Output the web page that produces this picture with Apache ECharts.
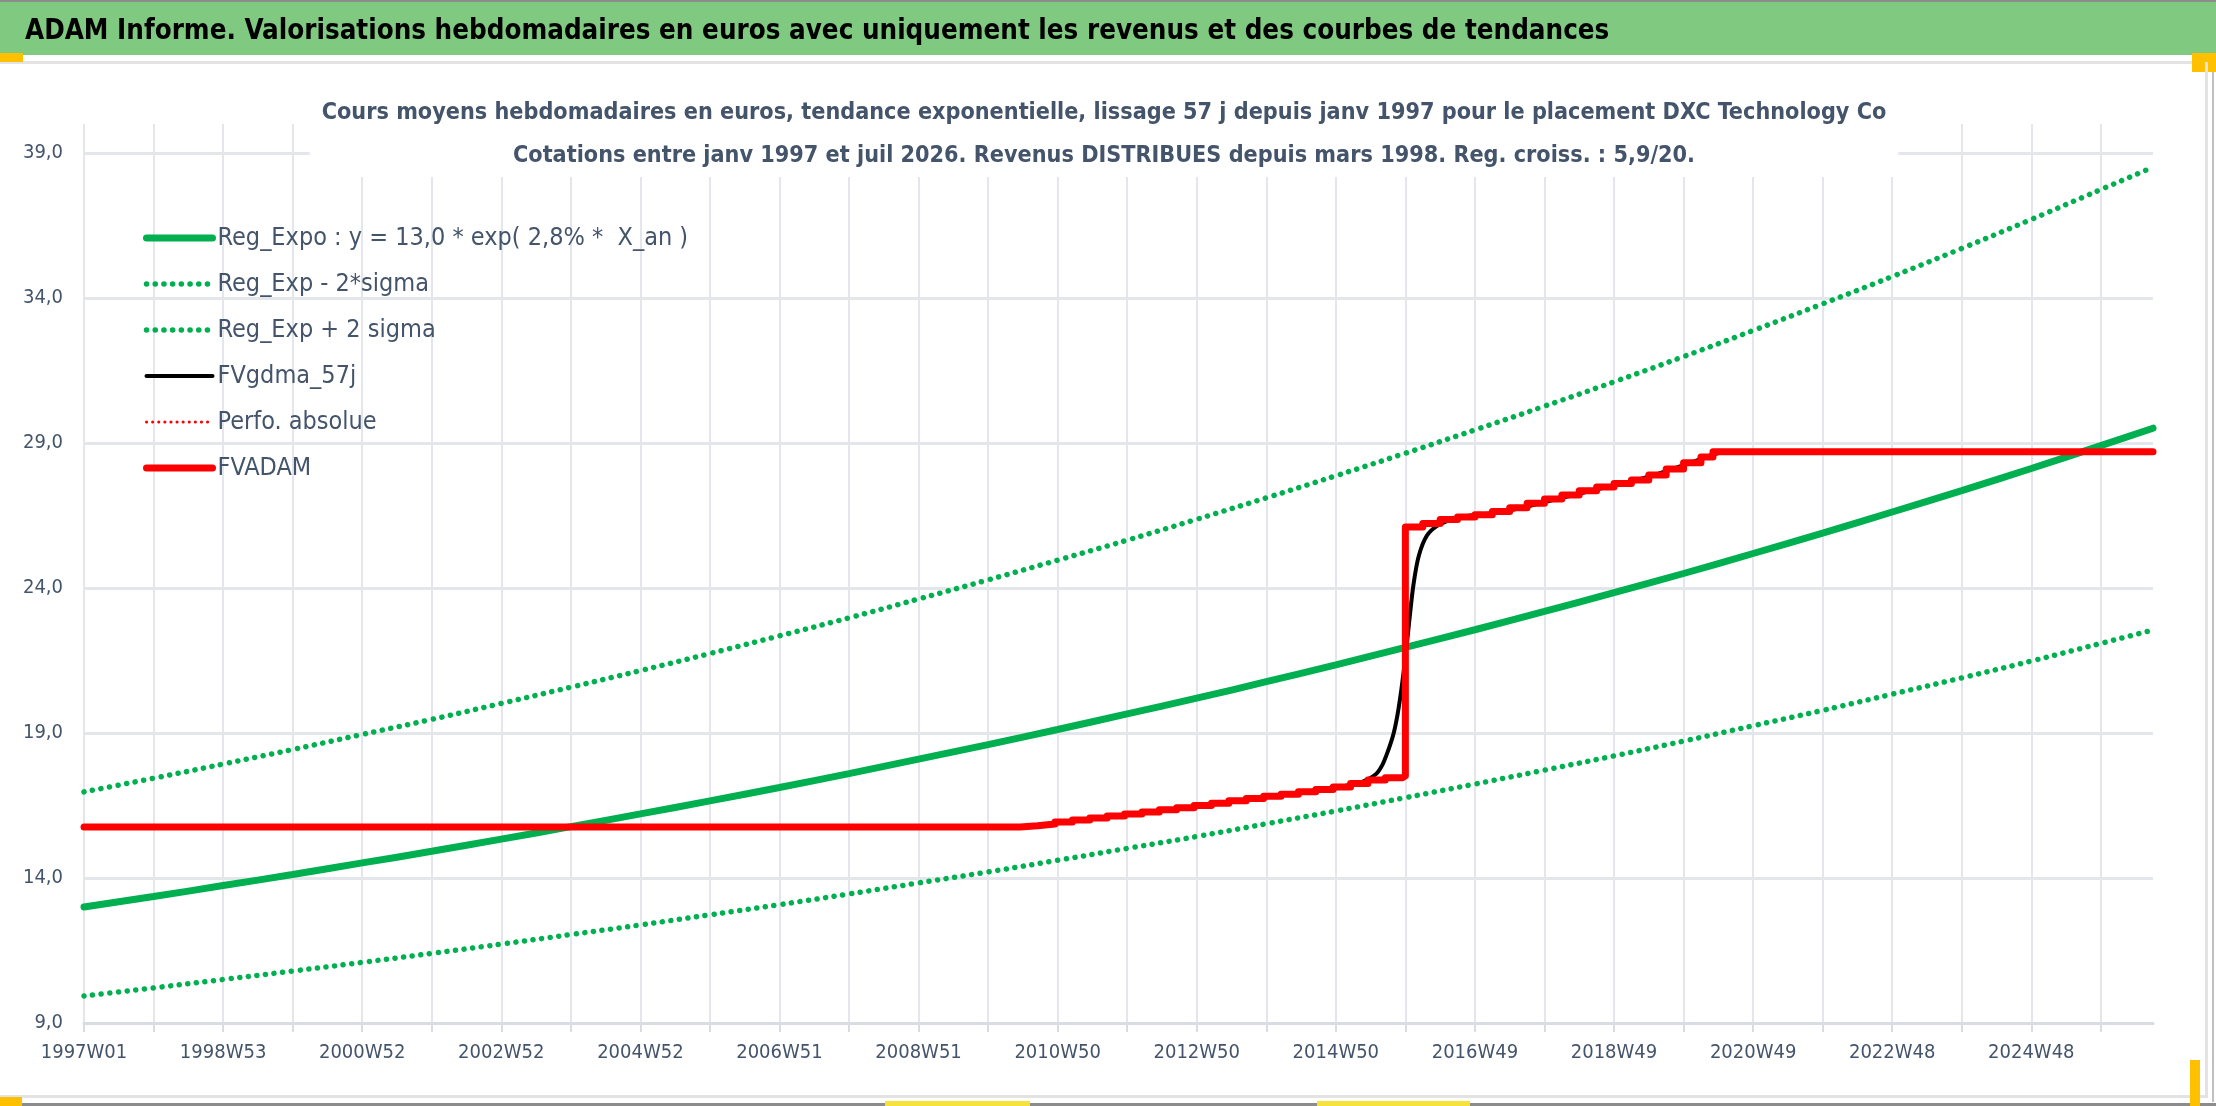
<!DOCTYPE html>
<html>
<head>
<meta charset="utf-8">
<title>ADAM Informe - DXC Technology Co</title>
<script src="https://cdn.jsdelivr.net/npm/echarts@6/dist/echarts.min.js"></script>
<style>
    html, body { margin: 0; padding: 0; background: #fff; }
    #chart { width: 2216px; height: 1106px; }
</style>
</head>
<body>
<div id="chart"></div>
<script>
// semaines (index depuis 1997W01) des graduations et etiquettes de l'axe X
const tickWeeks = [0, 52, 104, 156, 208, 260, 312, 364, 416, 468, 520, 572, 624, 676, 728,
    780, 832, 884, 936, 988, 1040, 1092, 1144, 1196, 1248, 1300, 1352, 1404, 1456, 1508]
const labelWeeks = [0, 104, 208, 312, 416, 520, 624, 728, 832, 936, 1040, 1144, 1248, 1352, 1456]
const weekLabels = ['1997W01', '1998W53', '2000W52', '2002W52', '2004W52', '2006W51', '2008W51',
    '2010W50', '2012W50', '2014W50', '2016W49', '2018W49', '2020W49', '2022W48', '2024W48']
const yTicks = [9, 14, 19, 24, 29, 34, 39]

const trendWeeks = [0, 52, 104, 156, 208, 260, 312, 364, 416, 468, 520, 572, 624, 676, 728,
    780, 832, 884, 936, 988, 1040, 1092, 1144, 1196, 1248, 1300, 1352, 1404, 1456, 1508, 1547]
const regExpo = [13.00, 13.36, 13.74, 14.12, 14.52, 14.92, 15.34, 15.77, 16.21, 16.66, 17.12,
    17.60, 18.10, 18.60, 19.12, 19.66, 20.20, 20.77, 21.35, 21.95, 22.56, 23.19, 23.84, 24.50,
    25.19, 25.89, 26.62, 27.36, 28.12, 28.91, 29.51]
const regLow = [9.93, 10.21, 10.50, 10.79, 11.09, 11.40, 11.72, 12.05, 12.38, 12.73, 13.08,
    13.45, 13.83, 14.21, 14.61, 15.02, 15.43, 15.87, 16.31, 16.77, 17.24, 17.72, 18.21, 18.72,
    19.25, 19.78, 20.34, 20.90, 21.48, 22.09, 22.55]
const regHigh = [16.97, 17.44, 17.93, 18.43, 18.95, 19.47, 20.02, 20.58, 21.15, 21.74, 22.35,
    22.97, 23.62, 24.28, 24.96, 25.65, 26.37, 27.11, 27.87, 28.65, 29.45, 30.27, 31.11, 31.98,
    32.88, 33.80, 34.74, 35.71, 36.71, 37.74, 38.51]

// FVADAM : valeur en escalier (revenus trimestriels)
const fvadamWeeks = [0, 700, 713, 726, 739, 752, 765, 778, 791, 804, 817, 830, 843, 856, 869,
    882, 895, 908, 921, 934, 947, 960, 973, 986, 988, 1001, 1014, 1027, 1040, 1053, 1066, 1079,
    1092, 1105, 1118, 1131, 1144, 1157, 1170, 1183, 1196, 1209, 1218, 1547]
const fvadamValues = [15.76, 15.80, 15.86, 15.93, 16.00, 16.07, 16.14, 16.21, 16.28, 16.35,
    16.42, 16.50, 16.58, 16.66, 16.74, 16.82, 16.89, 16.97, 17.05, 17.14, 17.26, 17.38, 17.46,
    17.52, 26.10, 26.22, 26.36, 26.45, 26.53, 26.64, 26.77, 26.92, 27.07, 27.21, 27.35, 27.48,
    27.60, 27.72, 27.90, 28.10, 28.32, 28.52, 28.70, 28.70]

// FVgdma_57j : moyenne lissee
const gdmaWeeks = [0, 700, 730, 780, 834, 879, 929, 950, 959, 966, 971, 975, 979, 982, 985,
    988, 991, 994, 998, 1004, 1012, 1022, 1032, 1060, 1100, 1140, 1170, 1200, 1218, 1230, 1547]
const gdmaValues = [15.76, 15.78, 15.90, 16.18, 16.48, 16.76, 17.06, 17.24, 17.38, 17.58,
    17.92, 18.38, 18.95, 19.60, 20.50, 21.60, 22.90, 24.10, 25.10, 25.80, 26.15, 26.35, 26.47,
    26.62, 27.05, 27.50, 27.84, 28.30, 28.60, 28.70, 28.70]

const pairs = (xs, ys) => xs.map((x, i) => [x, ys[i]])

const FONT = "'DejaVu Sans Condensed', 'Liberation Sans Narrow', 'DejaVu Sans', sans-serif"
const GREEN = '#00B050'
const GRID = '#E3E6EB'
const TEXT = '#44546A'

let chart = echarts.init(document.getElementById('chart'))
chart.setOption({
    backgroundColor: '#fff',
    animation: false,
    textStyle: { fontFamily: FONT },
    title: {
        text: 'ADAM Informe. Valorisations hebdomadaires en euros avec uniquement les revenus et des courbes de tendances',
        left: 25,
        top: 13,
        padding: 0,
        textStyle: { fontFamily: FONT, fontSize: 27.5, fontWeight: 'bold', color: '#000', lineHeight: 38 }
    },
    graphic: [
        { type: 'rect', z: -10, shape: { x: 0, y: 0, width: 2216, height: 2 }, style: { fill: '#8C8C8C' } },
        { type: 'rect', z: -10, shape: { x: 0, y: 2, width: 2216, height: 53 }, style: { fill: '#80C980' } },
        { type: 'rect', z: -10, shape: { x: 0, y: 61, width: 2207, height: 3 }, style: { fill: '#E3E3E3' } },
        { type: 'rect', z: -10, shape: { x: 0, y: 53, width: 23, height: 9 }, style: { fill: '#FFC000' } },
        { type: 'rect', z: -10, shape: { x: 2192, y: 53, width: 24, height: 19 }, style: { fill: '#FFC000' } },
        { type: 'rect', z: -10, shape: { x: 2205, y: 62, width: 3, height: 1036 }, style: { fill: '#E3E3E3' } },
        { type: 'rect', z: -10, shape: { x: 2212, y: 72, width: 2, height: 1030 }, style: { fill: '#BFBFBF' } },
        { type: 'rect', z: -10, shape: { x: 0, y: 1095, width: 2207, height: 3 }, style: { fill: '#E3E3E3' } },
        { type: 'rect', z: -10, shape: { x: 0, y: 1103, width: 2216, height: 3 }, style: { fill: '#8C8C8C' } },
        { type: 'rect', z: -10, shape: { x: 0, y: 1097, width: 22, height: 9 }, style: { fill: '#FFC000' } },
        { type: 'rect', z: -10, shape: { x: 885, y: 1101, width: 145, height: 5 }, style: { fill: '#F5E33B' } },
        { type: 'rect', z: -10, shape: { x: 1317, y: 1101, width: 153, height: 5 }, style: { fill: '#F5E33B' } },
        { type: 'rect', z: -10, shape: { x: 2190, y: 1060, width: 10, height: 46 }, style: { fill: '#FFC000' } },
        {
            // titre du graphique, sur fond blanc par-dessus le quadrillage
            type: 'text',
            z: 50,
            x: 1104,
            y: 91,
            style: {
                text: 'Cours moyens hebdomadaires en euros, tendance exponentielle, lissage 57 j depuis janv 1997 pour le placement DXC Technology Co\nCotations entre janv 1997 et juil 2026. Revenus DISTRIBUES depuis mars 1998. Reg. croiss. : 5,9/20.',
                align: 'center',
                verticalAlign: 'top',
                font: "bold 23.2px " + FONT,
                lineHeight: 43,
                fill: TEXT,
                backgroundColor: '#fff',
                padding: [0, 12]
            }
        }
    ],
    legend: {
        orient: 'vertical',
        left: 138,
        top: 218,
        itemWidth: 66,
        itemHeight: 14,
        itemGap: 16,
        itemStyle: { opacity: 0 },
        lineStyle: { width: 'inherit', cap: 'round' },
        textStyle: { fontFamily: FONT, fontSize: 25, color: TEXT, lineHeight: 30 },
        data: ['Reg_Expo : y = 13,0 * exp( 2,8% *  X_an )', 'Reg_Exp - 2*sigma', 'Reg_Exp + 2 sigma',
            'FVgdma_57j', 'Perfo. absolue', 'FVADAM']
    },
    grid: { left: 84, right: 63, top: 124, bottom: 83 },
    xAxis: {
        type: 'value',
        min: 0,
        max: 1547,
        interval: 52,
        axisLine: { show: true, onZero: false, lineStyle: { color: '#D9DCE1', width: 3 } },
        axisTick: { show: true, length: 9, customValues: tickWeeks, lineStyle: { color: '#D9DCE1', width: 2 } },
        splitLine: { show: true, lineStyle: { color: GRID, width: 2 } },
        axisLabel: {
            customValues: labelWeeks,
            margin: 20,
            fontSize: 20,
            color: TEXT,
            fontFamily: FONT,
            formatter: v => weekLabels[labelWeeks.indexOf(v)] || ''
        }
    },
    yAxis: {
        type: 'value',
        min: 9,
        max: 40,
        interval: 5,
        axisLine: { show: false },
        axisTick: { show: false, customValues: yTicks },
        splitLine: { show: true, lineStyle: { color: GRID, width: 3 } },
        axisLabel: {
            customValues: yTicks,
            margin: 21,
            fontSize: 20,
            color: TEXT,
            fontFamily: FONT,
            formatter: v => v.toFixed(1).replace('.', ',')
        }
    },
    series: [
        {
            name: 'Reg_Expo : y = 13,0 * exp( 2,8% *  X_an )',
            type: 'line',
            symbol: 'none',
            smooth: true,
            data: pairs(trendWeeks, regExpo),
            itemStyle: { color: GREEN },
            lineStyle: { color: GREEN, width: 7, cap: 'round' }
        },
        {
            name: 'Reg_Exp - 2*sigma',
            type: 'line',
            symbol: 'none',
            smooth: true,
            data: pairs(trendWeeks, regLow),
            itemStyle: { color: GREEN },
            lineStyle: { color: GREEN, width: 5.5, type: [0.1, 8.6], cap: 'round' }
        },
        {
            name: 'Reg_Exp + 2 sigma',
            type: 'line',
            symbol: 'none',
            smooth: true,
            data: pairs(trendWeeks, regHigh),
            itemStyle: { color: GREEN },
            lineStyle: { color: GREEN, width: 5.5, type: [0.1, 8.6], cap: 'round' }
        },
        {
            name: 'FVgdma_57j',
            type: 'line',
            symbol: 'none',
            smooth: 0.3,
            data: pairs(gdmaWeeks, gdmaValues),
            itemStyle: { color: '#000' },
            lineStyle: { color: '#000', width: 4, cap: 'round', join: 'round' }
        },
        {
            name: 'Perfo. absolue',
            type: 'line',
            symbol: 'none',
            step: 'end',
            data: pairs(fvadamWeeks, fvadamValues),
            itemStyle: { color: '#FF0000' },
            lineStyle: { color: '#FF0000', width: 3, type: [0.1, 6], cap: 'round' }
        },
        {
            name: 'FVADAM',
            type: 'line',
            symbol: 'none',
            step: 'end',
            data: pairs(fvadamWeeks, fvadamValues),
            itemStyle: { color: '#FF0000' },
            lineStyle: { color: '#FF0000', width: 7, cap: 'round', join: 'round' }
        }
    ]
})
</script>
</body>
</html>
